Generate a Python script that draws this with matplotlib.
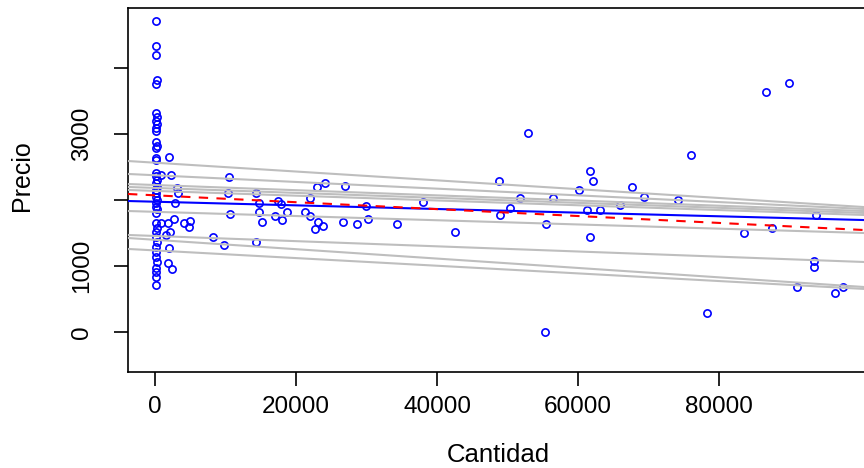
import matplotlib
matplotlib.use("Agg")
import matplotlib.pyplot as plt
import numpy as np

# ---- data ----
cantidad = [
    150, 200, 100, 250, 180, 120, 220, 160, 260, 140, 200, 110, 240, 170,
    130, 210, 190, 150, 230, 120, 270, 160, 200, 140, 250, 180, 110, 220,
    170, 130, 260, 150, 200, 240, 120, 190, 160, 230, 140, 210, 180, 150,
    1986, 851, 1844, 2695, 4113, 4965, 4823, 2128, 1560, 1986, 1844, 2411,
    2270, 3121, 3262, 2837, 851,
    8227, 9787, 10496, 10355, 10638, 14326, 14752, 14752, 15177, 14326,
    17447, 17872, 17021, 18014, 18723, 21277, 21986, 21986, 22979, 24113,
    23121, 22695, 23830, 26667, 26950, 28652, 29929, 30213, 34326, 38014,
    42553, 48794, 48936, 50355, 51773, 52908, 55461, 55319, 56454, 60142,
    61702, 62128, 61702, 63121, 61277, 65957, 67660, 69362, 76028, 74184,
    78298, 83546, 86667, 89929, 87518, 93759, 93475, 93475, 91064, 96454,
    97589,
]
precio = [
    4712, 4333, 4197, 3818, 3758, 3318, 3258, 3197, 3152, 3091, 3045, 2879,
    2818, 2788, 2636, 2606, 2409, 2364, 2303, 2258, 2197, 2152, 2106, 2045,
    2000, 1955, 1894, 1864, 1803, 1652, 1576, 1515, 1439, 1364, 1288, 1212,
    1136, 1061, 970, 909, 833, 712,
    2652, 1652, 1652, 1712, 1652, 1682, 1591, 1515, 1470, 1273, 1045, 955,
    2379, 2182, 2106, 1955, 2379,
    1439, 1318, 2348, 2106, 1788, 2106, 1955, 1818, 1667, 1364,
    1985, 1939, 1758, 1697, 1818, 1818, 1758, 2030, 2197, 2258,
    1667, 1561, 1606, 1667, 2212, 1636, 1909, 1712, 1636, 1970,
    1515, 2288, 1773, 1879, 2030, 3015, 1636, 0, 2030, 2152,
    2439, 2288, 1439, 1848, 1848, 1924, 2197, 2045, 2682, 2000,
    288, 1500, 3636, 3773, 1576, 1773, 1076, 985, 682, 591,
    682,
]

# quantile regression lines (intercept, slope)
qr_intercepts = [2565, 2375, 2227, 2183, 2138, 1821, 1455, 1397, 1236]
qr_slopes = [-0.00668, -0.00508, -0.00392, -0.00377, -0.00363, -0.00319,
             -0.00392, -0.00711, -0.00580]
ols_coef = [1974, -0.00276]
red_coef = [2071, -0.00523]

x_ticks = [0, 20000, 40000, 60000, 80000]
y_ticks = [0, 1000, 2000, 3000, 4000]
y_ticklabels = ["0", "1000", "", "3000", ""]

plt.rcParams["font.family"] = ["Liberation Sans", "DejaVu Sans"]

fig = plt.figure(figsize=(8.64, 4.68), dpi=100)
ax = fig.add_axes([128 / 864, (468 - 372) / 468, 740 / 864, 364 / 468])
xlim = (-3830, 101135)
ylim = (-606, 4909)
ax.set_xlim(*xlim)
ax.set_ylim(*ylim)

ax.plot(cantidad, precio, linestyle="none", marker="o", markersize=5.2,
        markerfacecolor="none", markeredgecolor="#0000FF", markeredgewidth=1.2,
        zorder=2)

xs = np.array(xlim)
for b0, b1 in zip(qr_intercepts, qr_slopes):
    ax.plot(xs, b0 + b1 * xs, color="#BEBEBE", lw=1.5, zorder=3)
ax.plot(xs, ols_coef[0] + ols_coef[1] * xs, color="#0000FF", lw=1.5, zorder=4)
ax.plot(xs, red_coef[0] + red_coef[1] * xs, color="#FF0000", lw=1.5,
        dashes=(4.5, 4), zorder=5)

for s in ax.spines.values():
    s.set_linewidth(1.2)
    s.set_color("black")

ax.set_xticks(x_ticks)
ax.set_xticklabels([str(v) for v in x_ticks], fontsize=17.5)
ax.set_yticks(y_ticks)
ax.set_yticklabels(y_ticklabels, rotation=90, va="center", fontsize=17.5)
ax.tick_params(axis="both", direction="out", length=10, width=1.2,
               colors="black")
ax.tick_params(axis="x", pad=7)
ax.tick_params(axis="y", pad=15)

fig.text(498 / 864, 1 - 455 / 468, "Cantidad", ha="center", va="center",
         fontsize=18.5)
fig.text(22 / 864, 1 - 176 / 468, "Precio", ha="center", va="center",
         rotation=90, fontsize=18)

fig.savefig("out.png", dpi=100)
